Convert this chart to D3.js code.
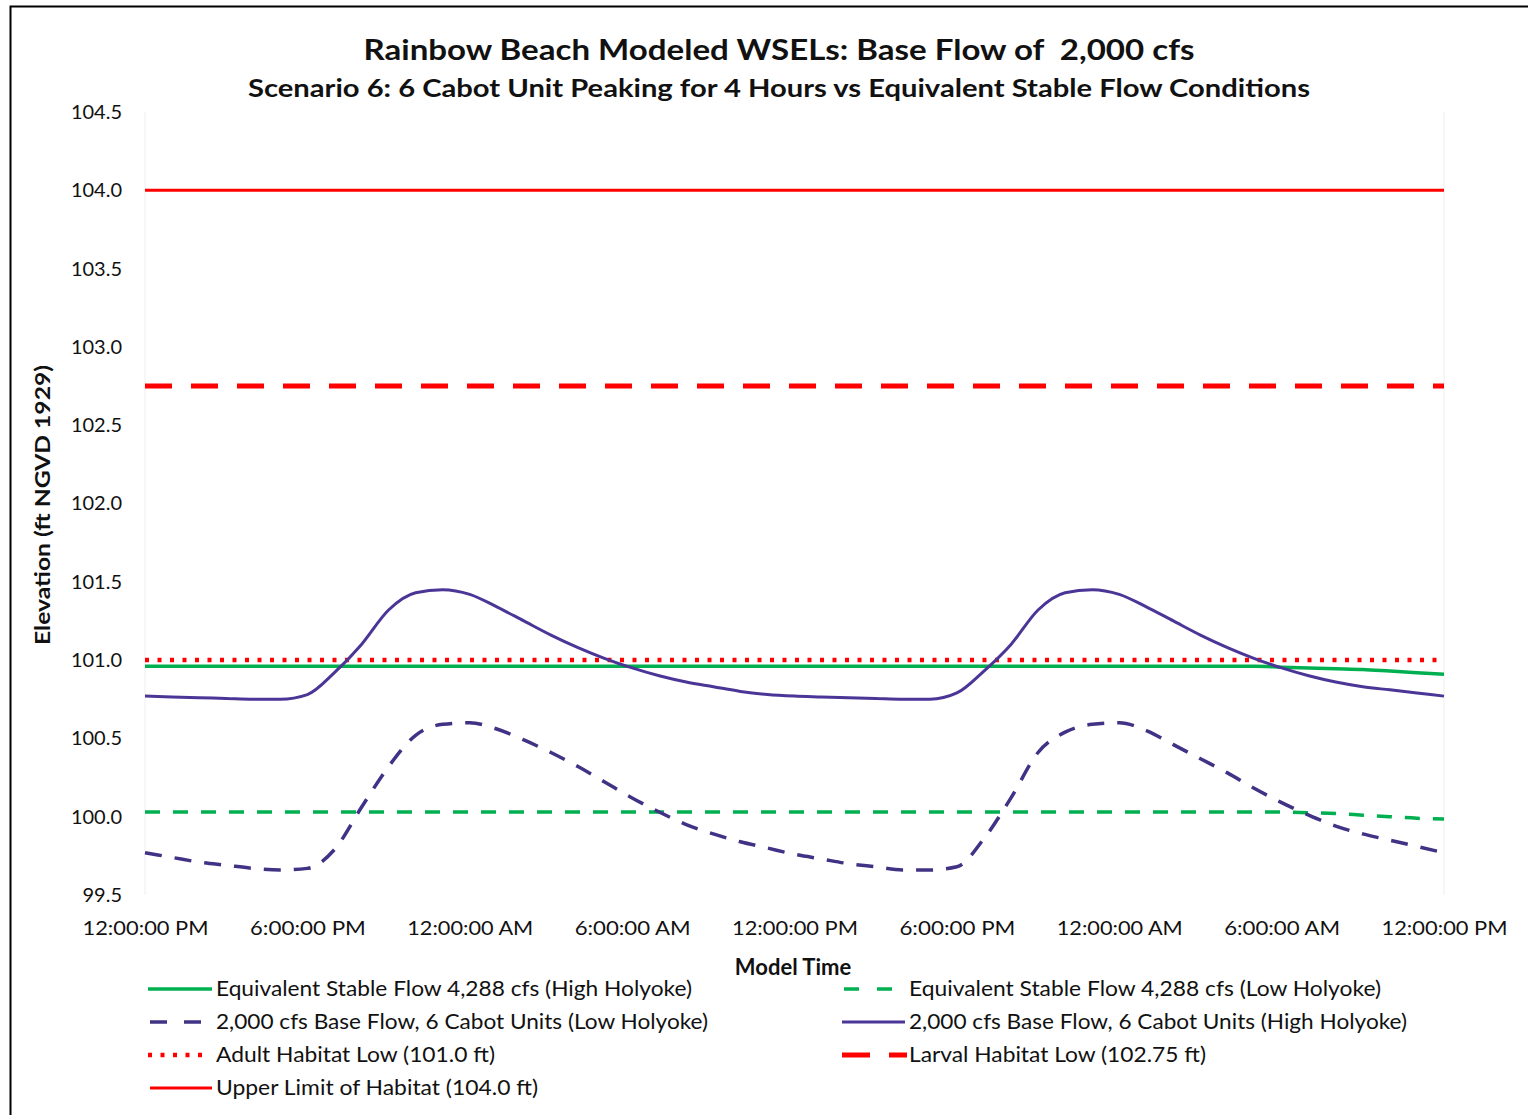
<!DOCTYPE html>
<html>
<head>
<meta charset="utf-8">
<script src="https://cdn.jsdelivr.net/npm/d3@7"></script>
<style>
  html, body { margin: 0; padding: 0; background: #fff; }
  svg text { font-family: Lato, "Open Sans", sans-serif; fill: #111; }
</style>
</head>
<body>
<svg id="chart" width="1528" height="1115"></svg>
<script>
// ---- data ----
const hours = d3.range(0, 49); // model hours from 12:00:00 PM
const xTickHours = [0, 6, 12, 18, 24, 30, 36, 42, 48];
const xTickLabels = ["12:00:00 PM", "6:00:00 PM", "12:00:00 AM", "6:00:00 AM", "12:00:00 PM", "6:00:00 PM", "12:00:00 AM", "6:00:00 AM", "12:00:00 PM"];
const yTicks = [99.5, 100.0, 100.5, 101.0, 101.5, 102.0, 102.5, 103.0, 103.5, 104.0, 104.5];

const stableHigh = [100.96,100.96,100.96,100.96,100.96,100.96,100.96,100.96,100.96,100.96,
  100.96,100.96,100.96,100.96,100.96,100.96,100.96,100.96,100.96,100.96,
  100.96,100.96,100.96,100.96,100.96,100.96,100.96,100.96,100.96,100.96,
  100.96,100.96,100.96,100.96,100.96,100.96,100.96,100.96,100.96,100.96,
  100.96,100.96,100.955,100.95,100.945,100.94,100.93,100.92,100.91];
const stableLow = [100.03,100.03,100.03,100.03,100.03,100.03,100.03,100.03,100.03,100.03,
  100.03,100.03,100.03,100.03,100.03,100.03,100.03,100.03,100.03,100.03,
  100.03,100.03,100.03,100.03,100.03,100.03,100.03,100.03,100.03,100.03,
  100.03,100.03,100.03,100.03,100.03,100.03,100.03,100.03,100.03,100.03,
  100.03,100.03,100.03,100.025,100.02,100.01,100.0,99.99,99.985];
const peakHigh = [100.77,100.765,100.76,100.755,100.75,100.75,100.78,100.92,101.1,101.32,
  101.43,101.45,101.42,101.34,101.25,101.16,101.08,101.01,100.95,100.9,
  100.86,100.83,100.80,100.78,100.77,100.765,100.76,100.755,100.75,100.75,
  100.79,100.93,101.1,101.32,101.43,101.45,101.42,101.34,101.25,101.16,
  101.08,101.01,100.95,100.9,100.86,100.83,100.81,100.79,100.77];
const peakLow = [99.77,99.74,99.71,99.69,99.67,99.66,99.67,99.79,100.06,100.32,
  100.52,100.59,100.60,100.56,100.49,100.41,100.32,100.22,100.12,100.03,
  99.95,99.89,99.84,99.80,99.76,99.73,99.70,99.68,99.66,99.66,
  99.68,99.86,100.12,100.41,100.54,100.59,100.60,100.55,100.46,100.37,
  100.28,100.18,100.09,100.01,99.94,99.89,99.85,99.81,99.77];
const adultLow = 101.0;
const larvalLow = 102.75;
const upperLimit = 104.0;

// ---- setup ----
const svg = d3.select("#chart");
const x = d3.scaleLinear().domain([0, 48]).range([145, 1444]);
const y = d3.scaleLinear().domain([99.5, 104.5]).range([895, 112]);

// frame
svg.append("path").attr("d", "M10.5,1115 L10.5,6.5 L1528,6.5")
  .attr("fill", "none").attr("stroke", "#000").attr("stroke-width", 2);

// faint plot edges
svg.append("g").selectAll("line").data([0, 48]).join("line")
  .attr("x1", d => x(d)).attr("x2", d => x(d))
  .attr("y1", y(104.5)).attr("y2", y(99.5))
  .attr("stroke", "#eeeeee").attr("stroke-width", 1);

// titles
svg.append("text").attr("x", 779).attr("y", 60).attr("text-anchor", "middle")
  .attr("font-size", 29).attr("font-weight", "bold")
  .style("white-space", "pre")
  .attr("textLength", 831).attr("lengthAdjust", "spacingAndGlyphs")
  .text("Rainbow Beach Modeled WSELs: Base Flow of  2,000 cfs");
svg.append("text").attr("x", 779).attr("y", 97).attr("text-anchor", "middle")
  .attr("font-size", 24).attr("font-weight", "bold")
  .attr("textLength", 1062).attr("lengthAdjust", "spacingAndGlyphs")
  .text("Scenario 6: 6 Cabot Unit Peaking for 4 Hours vs Equivalent Stable Flow Conditions");

// y axis
const yAxis = d3.axisLeft(y).tickValues(yTicks).tickFormat(d3.format(".1f")).tickSize(0).tickPadding(0);
const gy = svg.append("g").attr("transform", "translate(122,0)").call(yAxis);
gy.select(".domain").remove();
gy.selectAll("text").attr("font-size", 20).attr("font-family", "Lato, sans-serif").attr("fill", "#111");

// x axis
const xAxis = d3.axisBottom(x).tickValues(xTickHours).tickFormat((d, i) => xTickLabels[i]).tickSize(0).tickPadding(0);
const gx = svg.append("g").attr("transform", "translate(0,921)").call(xAxis);
gx.select(".domain").remove();
gx.selectAll("text").attr("font-size", 20).attr("font-family", "Lato, sans-serif").attr("fill", "#111")
  .attr("textLength", 126).attr("lengthAdjust", "spacingAndGlyphs");
gx.selectAll("text").filter((d, i) => xTickLabels[i].length === 10).attr("textLength", 116);

// axis titles
svg.append("text").attr("x", 793).attr("y", 975).attr("text-anchor", "middle")
  .attr("font-size", 22).attr("font-weight", "bold").text("Model Time");
svg.append("text").attr("transform", "translate(50,505) rotate(-90)").attr("text-anchor", "middle")
  .attr("font-size", 21).attr("font-weight", "bold")
  .attr("textLength", 280).attr("lengthAdjust", "spacingAndGlyphs")
  .text("Elevation (ft NGVD 1929)");

// ---- series ----
const GREEN = "#00b050", PURPLE = "#4b3597", RED = "#ff0000";
const series = [
  {name: "Upper Limit of Habitat (104.0 ft)", values: hours.map(() => upperLimit), color: RED, width: 3, dash: null},
  {name: "Larval Habitat Low (102.75 ft)", values: hours.map(() => larvalLow), color: RED, width: 5, dash: "27,19"},
  {name: "Equivalent Stable Flow 4,288 cfs (Low Holyoke)", values: stableLow, color: GREEN, width: 3.5, dash: "15,13"},
  {name: "2,000 cfs Base Flow, 6 Cabot Units (Low Holyoke)", values: peakLow, color: "#423285", width: 3.5, dash: "17,13"},
  {name: "Equivalent Stable Flow 4,288 cfs (High Holyoke)", values: stableHigh, color: GREEN, width: 3.5, dash: null},
  {name: "Adult Habitat Low (101.0 ft)", values: hours.map(() => adultLow), color: RED, width: 4.5, dash: "4,8.5"},
  {name: "2,000 cfs Base Flow, 6 Cabot Units (High Holyoke)", values: peakHigh, color: PURPLE, width: 3, dash: null}
];
const line = d3.line().x((d, i) => x(hours[i])).y(d => y(d)).curve(d3.curveMonotoneX);
svg.append("g").selectAll("path").data(series).join("path")
  .attr("d", d => line(d.values))
  .attr("fill", "none")
  .attr("stroke", d => d.color)
  .attr("stroke-width", d => d.width)
  .attr("stroke-dasharray", d => d.dash)
  .attr("stroke-linejoin", "round");

// ---- legend ----
const legendItems = [
  {key: "Equivalent Stable Flow 4,288 cfs (High Holyoke)", col: 0, row: 0, sw: [148, 212], dash: null},
  {key: "Equivalent Stable Flow 4,288 cfs (Low Holyoke)", col: 1, row: 0, sw: [844, 900], dash: "15,18"},
  {key: "2,000 cfs Base Flow, 6 Cabot Units (Low Holyoke)", col: 0, row: 1, sw: [150, 206], dash: "17,17"},
  {key: "2,000 cfs Base Flow, 6 Cabot Units (High Holyoke)", col: 1, row: 1, sw: [842, 905], dash: null},
  {key: "Adult Habitat Low (101.0 ft)", col: 0, row: 2, sw: [148, 208], dash: "4,8.5"},
  {key: "Larval Habitat Low (102.75 ft)", col: 1, row: 2, sw: [842, 907], dash: "28,19"},
  {key: "Upper Limit of Habitat (104.0 ft)", col: 0, row: 3, sw: [150, 212], dash: null}
];
const textWidths = {
  "Equivalent Stable Flow 4,288 cfs (High Holyoke)": 476,
  "Equivalent Stable Flow 4,288 cfs (Low Holyoke)": 472,
  "2,000 cfs Base Flow, 6 Cabot Units (Low Holyoke)": 492,
  "2,000 cfs Base Flow, 6 Cabot Units (High Holyoke)": 498,
  "Adult Habitat Low (101.0 ft)": 279,
  "Larval Habitat Low (102.75 ft)": 297,
  "Upper Limit of Habitat (104.0 ft)": 322
};
const lg = svg.append("g");
legendItems.forEach(it => {
  const s = series.find(d => d.name === it.key);
  const yy = 989 + it.row * 33;
  lg.append("line").attr("x1", it.sw[0]).attr("x2", it.sw[1]).attr("y1", yy).attr("y2", yy)
    .attr("stroke", s.color).attr("stroke-width", s.width)
    .attr("stroke-dasharray", it.dash);
  lg.append("text").attr("x", it.col === 0 ? 216 : 909).attr("y", yy + 7)
    .attr("font-size", 21)
    .attr("textLength", textWidths[it.key]).attr("lengthAdjust", "spacingAndGlyphs")
    .text(it.key);
});
</script>
</body>
</html>
